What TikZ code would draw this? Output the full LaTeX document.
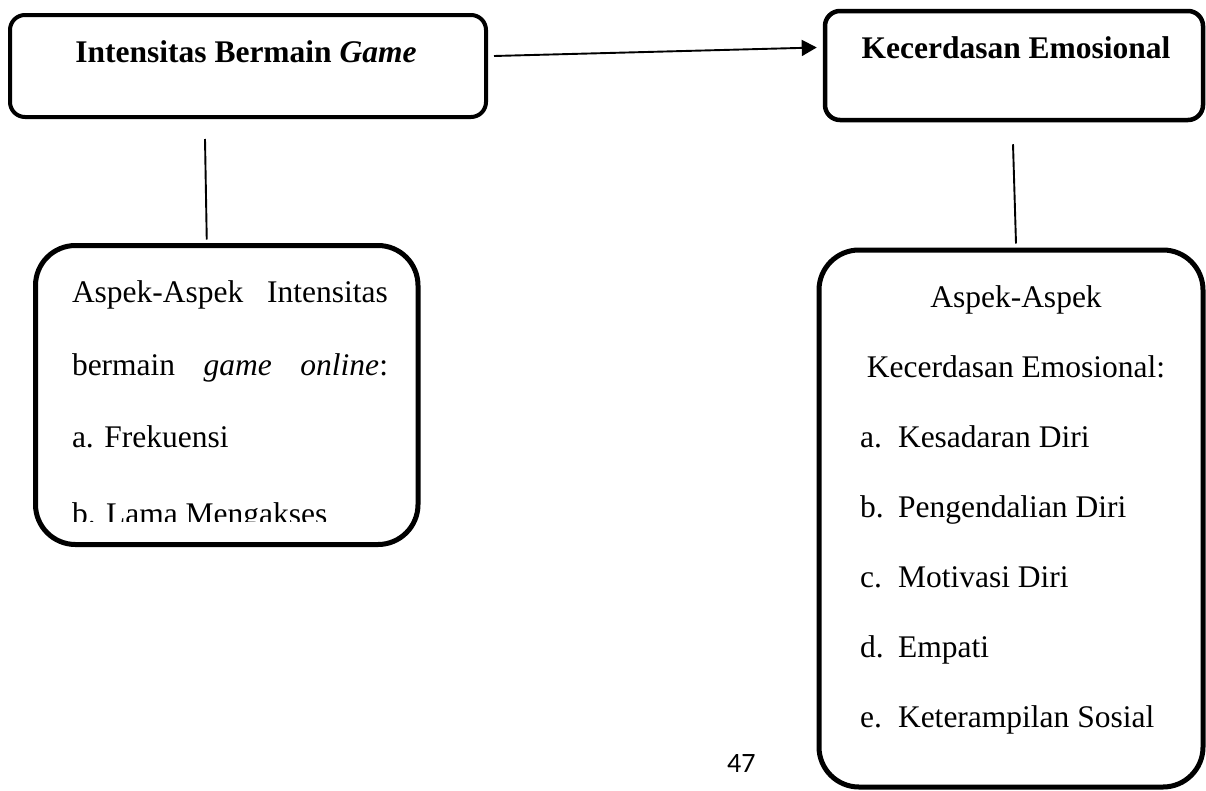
\documentclass[tikz,border=0pt]{standalone}
\usepackage{fontspec}
\setmainfont{Liberation Serif}
\newfontfamily\pagenumfont{Carlito}
\usetikzlibrary{arrows.meta,calc}
\tikzset{
  box/.style={draw=black, rounded corners=#1, rectangle, inner sep=0pt},
  thinbox/.style={box=15pt, line width=4pt},
  bigbox/.style={box=40pt, line width=5pt},
  conn/.style={draw=black, line width=1.9pt},
  txt/.style={inner sep=0pt, outer sep=0pt, anchor=base west, font=\fontsize{31.5}{36}\selectfont},
  ctxt/.style={txt, anchor=base},
}
\begin{document}
\begin{tikzpicture}[x=1pt,y=-1pt]
\useasboundingbox (0,0) rectangle (1206,790);
% boxes
\node[thinbox, minimum width=476pt, minimum height=102pt] (A) at (248,66) {};
\node[thinbox, line width=4.5pt, minimum width=378pt, minimum height=109pt] (B) at (1014,65.5) {};
\node[bigbox, minimum width=382.5pt, minimum height=299pt] (C) at (226.75,395) {};
\node[bigbox, minimum width=384pt, minimum height=537pt] (D) at (1011,518.5) {};
% titles
\node[ctxt, font=\fontsize{31.5}{36}\selectfont\bfseries] (tA) at (246,62) {Intensitas Bermain \textit{Game}};
\node[ctxt, font=\fontsize{31.5}{36}\selectfont\bfseries] (tB) at (1016,58) {Kecerdasan Emosional};
% left aspects
\node[txt] (c1) at (72,302) {\makebox[316pt][s]{Aspek-Aspek\hfill Intensitas}};
\node[txt] (c2) at (72,375) {\makebox[316pt][s]{bermain\hfill\textit{game}\hfill\textit{online}:}};
\node[txt] (c3) at (72,447) {a. Frekuensi};
\begin{scope}
  \clip (40,480) rectangle (415,521.5);
  \node[txt] (c4) at (72,524) {b. Lama Mengakses};
\end{scope}
% right aspects
\node[ctxt] (d1) at (1016,307) {Aspek-Aspek};
\node[ctxt] (d2) at (1016,377) {Kecerdasan Emosional:};
\foreach \l/\t/\y [count=\i] in {a./Kesadaran Diri/447, b./Pengendalian Diri/517, c./Motivasi Diri/587, d./Empati/657, e./Keterampilan Sosial/727}{
  \node[txt] (dl\i) at (860,\y) {\l};
  \node[txt] (dt\i) at (898,\y) {\t};
}
% page number
\node[inner sep=0pt, anchor=base west, font=\pagenumfont\fontsize{28}{32}\selectfont] (pg) at (727,772) {47};
% connectors
\draw[conn, -{Triangle[length=15pt,width=16pt]}] ([xshift=6pt,yshift=10pt]A.east) -- ([xshift=-6pt,yshift=18pt]B.west);
\draw[conn] ([xshift=-43pt,yshift=-20pt]A.south) -- ([xshift=-20pt,yshift=3.5pt]C.north);
\draw[conn] ([xshift=-1pt,yshift=-22pt]B.south) -- ([xshift=5pt,yshift=4pt]D.north);
\end{tikzpicture}
\end{document}
